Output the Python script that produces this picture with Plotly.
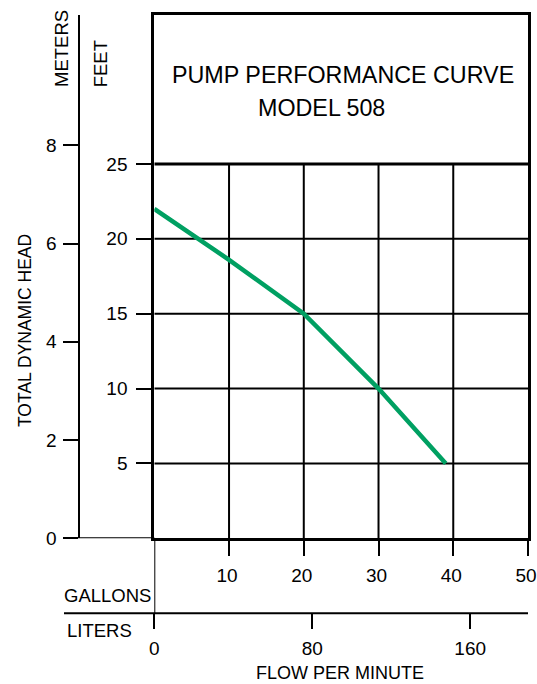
import plotly.graph_objects as go

# Pump curve: head (feet) against flow (US gallons per minute)
flow_gpm = [0, 10, 20, 30, 39]
head_ft = [22, 18.6, 15, 10, 5]

# Axis tick values
gallon_ticks = [10, 20, 30, 40, 50]
liter_ticks = [0, 80, 160]
feet_ticks = [5, 10, 15, 20, 25]
meter_ticks = [0, 2, 4, 6, 8]

FT_PER_M = 3.28084
L_PER_GAL = 3.78541

W, H = 537, 684
SANS = "Liberation Sans, Arial, sans-serif"
INK = "#000000"
GREEN = "#00a062"

# plot box in pixels
box_l, box_r, box_t, box_b = 154.3, 528.0, 15.0, 538.3
ft_top = 34.95            # feet value at the top of the box
gal_max = 50
liters_y_px = 613.3       # liters scale baseline
meters_x_px = 79.3        # meters scale line


def px(x):
    return x / W


def py(y):
    return 1 - y / H


fig = go.Figure()
fig.add_trace(go.Scatter(
    x=flow_gpm, y=head_ft, mode="lines",
    line=dict(color=GREEN, width=4.5),
    hoverinfo="skip", showlegend=False,
))
# invisible traces so the secondary scales render
fig.add_trace(go.Scatter(x=[None], y=[None], xaxis="x2", yaxis="y", showlegend=False))
fig.add_trace(go.Scatter(x=[None], y=[None], xaxis="x", yaxis="y2", showlegend=False))

tick_font = dict(family=SANS, size=19, color=INK)
common = dict(
    tickmode="array", ticks="outside", ticklen=15, tickwidth=2, tickcolor=INK,
    showgrid=False, zeroline=False, tickfont=tick_font,
    automargin=False, ticklabeloverflow="allow", fixedrange=True,
)

fig.update_layout(
    width=W, height=H,
    margin=dict(l=0, r=0, t=0, b=0, autoexpand=False),
    paper_bgcolor="white", plot_bgcolor="white",
    showlegend=False,
    xaxis=dict(
        domain=[px(box_l), px(box_r)], range=[0, gal_max],
        tickvals=gallon_ticks, ticktext=[str(v) for v in gallon_ticks],
        showline=True, linewidth=3, linecolor=INK, mirror=True,
        ticklabelstandoff=3, ticklabelshift=-2, **common,
    ),
    xaxis2=dict(
        overlaying="x", anchor="free", position=py(liters_y_px), side="bottom",
        domain=[px(box_l), px(box_r)], range=[0, gal_max * L_PER_GAL],
        tickvals=liter_ticks, ticktext=[str(v) for v in liter_ticks],
        showline=False, ticklabelstandoff=3, **common,
    ),
    yaxis=dict(
        domain=[py(box_b), py(box_t)], range=[0, ft_top],
        tickvals=feet_ticks, ticktext=[str(v) for v in feet_ticks],
        showline=True, linewidth=3, linecolor=INK, mirror=True,
        ticklabelstandoff=5, **common,
    ),
    yaxis2=dict(
        overlaying="y", anchor="free", position=px(meters_x_px), side="left",
        domain=[py(box_b), py(box_t)], range=[0, ft_top / FT_PER_M],
        tickvals=meter_ticks, ticktext=[str(v) for v in meter_ticks],
        showline=True, linewidth=2, linecolor=INK,
        ticklabelstandoff=3, **common,
    ),
)

shapes = []
# grid below the title panel
for g in gallon_ticks[:-1]:
    shapes.append(dict(type="line", xref="x", yref="y", x0=g, x1=g, y0=0, y1=feet_ticks[-1],
                       line=dict(color=INK, width=2), layer="below"))
for f in feet_ticks[:-1]:
    shapes.append(dict(type="line", xref="x", yref="y", x0=0, x1=gal_max, y0=f, y1=f,
                       line=dict(color=INK, width=2), layer="below"))
# divider between grid and title panel
shapes.append(dict(type="line", xref="x", yref="y", x0=0, x1=gal_max,
                   y0=feet_ticks[-1], y1=feet_ticks[-1], line=dict(color=INK, width=3)))
# zero-head base line running out to the meters scale
shapes.append(dict(type="line", xref="paper", yref="y", x0=px(64), x1=px(box_l), y0=0, y1=0,
                   line=dict(color=INK, width=2)))
# liters baseline
shapes.append(dict(type="line", xref="paper", yref="paper", x0=px(64), x1=px(box_r),
                   y0=py(liters_y_px), y1=py(liters_y_px), line=dict(color=INK, width=2)))
# zero-flow line joining the two flow scales
shapes.append(dict(type="line", xref="x", yref="paper", x0=0, x1=0,
                   y0=py(box_b), y1=py(liters_y_px), line=dict(color=INK, width=2)))
fig.update_layout(shapes=shapes)

label_font = dict(family=SANS, size=18.5, color=INK)
title_font = dict(family=SANS, size=23.3, color=INK)


def note(text, x, y, font, angle=0, xanchor="center"):
    fig.add_annotation(text=text, x=px(x), y=py(y), xref="paper", yref="paper",
                       showarrow=False, font=font, textangle=angle,
                       xanchor=xanchor, yanchor="middle")


note("PUMP PERFORMANCE CURVE", 342.5, 75, title_font)
note("MODEL 508", 321.5, 108, title_font)
note("METERS", 61.5, 48.5, label_font, angle=-90)
note("FEET", 100, 64.3, label_font, angle=-90)
note("TOTAL DYNAMIC HEAD", 25, 331, dict(family=SANS, size=17.5, color=INK), angle=-90)
note("GALLONS", 107, 595, label_font)
note("LITERS", 99.5, 630.5, label_font)
note("FLOW PER MINUTE", 340, 672.5, dict(family=SANS, size=18, color=INK))

fig.write_html("out.html", config=dict(displayModeBar=False))
